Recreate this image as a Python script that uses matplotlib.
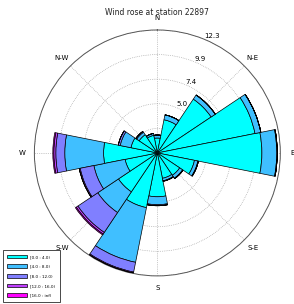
import numpy as np
import matplotlib
matplotlib.use("Agg")
import matplotlib.pyplot as plt

# direction sectors, clockwise from north
directions = ["N", "NNE", "NE", "ENE", "E", "ESE", "SE", "SSE",
              "S", "SSW", "SW", "WSW", "W", "WNW", "NW", "NNW"]

# frequency (%) per speed class, one value per direction
f_0_4 = [1.5, 3.4, 6.5, 10.0, 10.5, 3.8, 2.7, 2.6, 4.4, 5.6, 4.7, 3.3, 5.4, 2.7, 2.2, 1.8]
f_4_8 = [0.3, 0.5, 0.5, 0.6, 1.5, 0.35, 0.35, 0.25, 0.8, 5.6, 2.5, 3.2, 3.9, 1.1, 0.3, 0.2]
f_8_12 = [0.0, 0.0, 0.0, 0.0, 0.05, 0.05, 0.05, 0.05, 0.1, 1.0, 2.4, 1.4, 0.9, 0.2, 0.1, 0.0]
f_12_16 = [0.0, 0.0, 0.0, 0.0, 0.0, 0.0, 0.0, 0.0, 0.0, 0.1, 0.2, 0.1, 0.2, 0.0, 0.0, 0.0]
f_16_inf = [0.0, 0.0, 0.0, 0.0, 0.0, 0.0, 0.0, 0.0, 0.0, 0.0, 0.1, 0.0, 0.1, 0.0, 0.0, 0.0]

bins = ["[0.0 : 4.0)", "[4.0 : 8.0)", "[8.0 : 12.0)", "[12.0 : 16.0)", "[16.0 : inf)"]

r_max = 12.35
r_ticklabels = ["2.5", "5.0", "7.4", "9.9", "12.3"]
compass = ["N", "N-E", "E", "S-E", "S", "S-W", "W", "N-W"]

title = "Wind rose at station 22897"

data = [f_0_4, f_4_8, f_8_12, f_12_16, f_16_inf]
colors = [plt.cm.cool(v) for v in np.linspace(0, 1, len(bins))]

fig = plt.figure(figsize=(2.94, 3.04), dpi=100)
ax = fig.add_axes([0.1167, 0.0924, 0.837, 0.809], projection="polar")
ax.set_theta_zero_location("N")
ax.set_theta_direction(-1)

n = len(directions)
theta = np.arange(n) * 2 * np.pi / n
width = 2 * np.pi / n

bottom = np.zeros(n)
for vals, c, lab in zip(data, colors, bins):
    vals = np.array(vals)
    ax.bar(theta, vals, width=width, bottom=bottom, color=c,
           edgecolor="black", linewidth=0.5, label=lab, zorder=3)
    bottom = bottom + vals

ax.set_ylim(0, r_max)
ax.set_rgrids(np.linspace(0, r_max, 6)[1:], labels=r_ticklabels,
              angle=22.5, fontsize=5)
ax.set_thetagrids(np.arange(0, 360, 45), labels=compass, fontsize=5)
ax.tick_params(axis="x", pad=-2)
ax.grid(True, linestyle=":", color="#999999", linewidth=0.5)
ax.spines["polar"].set_color("#555555")
ax.spines["polar"].set_linewidth(0.7)

# title centred over the rose, as in the original
fig.text(157.3 / 294, 1 - 12.5 / 304, title, fontsize=5.5,
         ha="center", va="center", color="#222222")

leg = fig.legend(loc="lower left", bbox_to_anchor=(0.003, 0.0),
                 fontsize=3, handlelength=4.8, handleheight=1.0,
                 labelspacing=1.3, borderpad=1.0, fancybox=False,
                 edgecolor="black", framealpha=1)
leg.get_frame().set_linewidth(0.5)

fig.savefig("out.png", dpi=100)
